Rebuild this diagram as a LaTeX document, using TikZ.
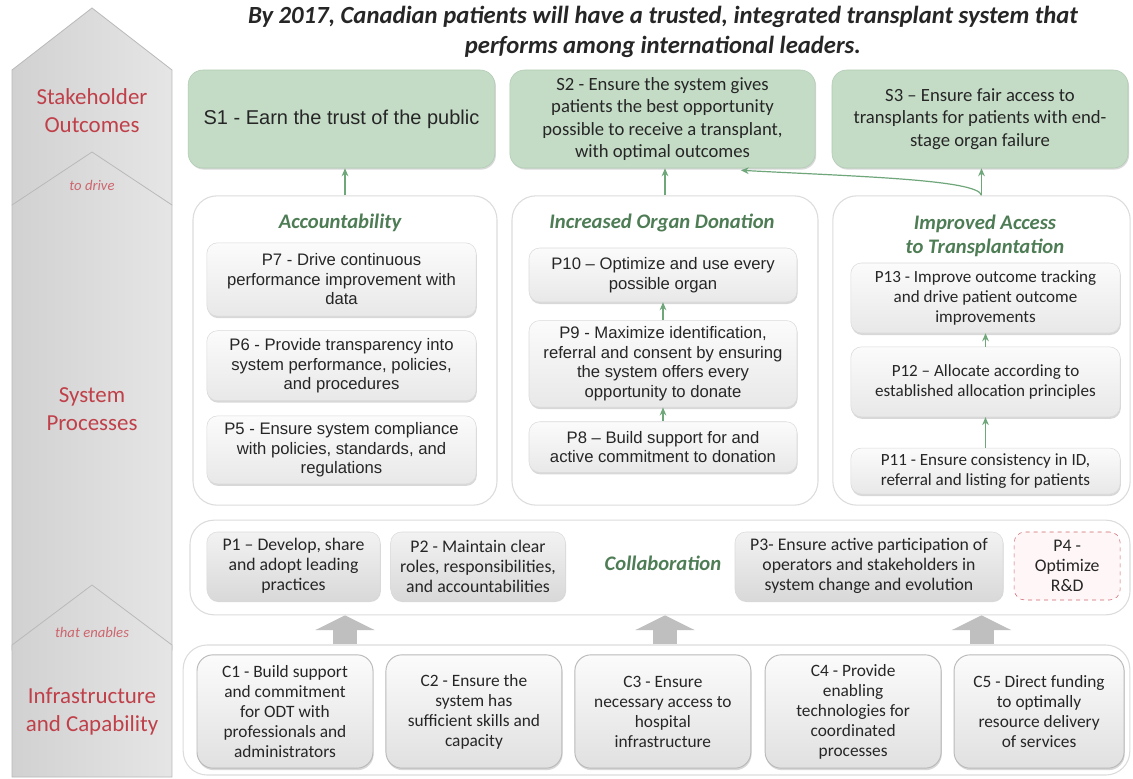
\documentclass[tikz,border=0pt]{standalone}
\usepackage{fontspec}
\setmainfont{Carlito}
\newfontfamily\arialfont{Liberation Sans}
\usetikzlibrary{arrows.meta,positioning,shadows}

\definecolor{sgfill}{HTML}{C4DCC6}
\definecolor{sgdraw}{HTML}{AFCBB2}
\definecolor{flowgreen}{HTML}{6FA77A}
\definecolor{headgreen}{HTML}{4E7D55}
\definecolor{labelred}{HTML}{C0404A}
\definecolor{txt}{HTML}{262626}
\definecolor{groupline}{HTML}{DCDCDC}

\begin{document}
\begin{tikzpicture}[
    x=0.75pt, y=-0.75pt,
    every node/.style={text=txt, align=center, inner sep=2pt},
    outcome/.style={draw=sgdraw, fill=sgfill, rounded corners=11pt, minimum height=73.5pt, font=\fontsize{14}{16.7}\selectfont, drop shadow={opacity=0.3, shadow xshift=0.8pt, shadow yshift=-1.2pt}},
    pgroup/.style={draw=groupline, line width=0.8pt, rounded corners=18pt, fill=white},
    proc/.style={draw=gray!28, rounded corners=8pt, top color=gray!3, bottom color=gray!18, minimum width=202pt, drop shadow={opacity=0.3, shadow xshift=0.5pt, shadow yshift=-1.5pt}},
    arialtxt/.style={font=\arialfont\fontsize{12.5}{14.6}\selectfont},
    calitxt/.style={font=\fontsize{12.8}{14.8}\selectfont},
    collabbox/.style={proc, top color=gray!10, bottom color=gray!30, minimum height=51pt, font=\fontsize{13.3}{15}\selectfont},
    rdbox/.style={draw=labelred!80, dashed, rounded corners=8pt, fill=red!3, minimum width=79.5pt, minimum height=51pt, font=\fontsize{13.3}{15}\selectfont},
    capbox/.style={draw=gray!55, line width=0.7pt, rounded corners=12pt, top color=gray!3, bottom color=gray!24, minimum width=132pt, minimum height=85pt, font=\fontsize{13}{15}\selectfont, drop shadow={opacity=0.3, shadow xshift=0.5pt, shadow yshift=-1.5pt}},
    heading/.style={text=headgreen, font=\bfseries\itshape\fontsize{15.5}{18}\selectfont},
    sidelabel/.style={text=labelred, font=\fontsize{17.2}{21}\selectfont},
    sidelink/.style={text=labelred!80, font=\itshape\fontsize{11}{13}\selectfont},
    pillar/.style={draw=gray!55, line width=0.6pt, left color=gray!36, right color=gray!20},
    flow/.style={-{Stealth[length=6pt,width=5pt]}, draw=flowgreen, line width=0.9pt},
    bigup/.style={-{Triangle[width=44pt,length=11pt]}, draw=gray!50, line width=18pt}
]
\useasboundingbox (0,0) rectangle (1133,779);
\fill[white] (0,0) rectangle (1133,779);

% left column
\path[pillar] (12,205) -- (12,70) -- (92,8) -- (172,70) -- (172,205) -- cycle;
\path[pillar] (12,650) -- (12,205) -- (92,152) -- (172,205) -- (172,650) -- cycle;
\path[pillar] (12,777) -- (12,645) -- (92,585) -- (172,645) -- (172,777) -- cycle;
\node[sidelabel] (lso) at (92,111) {Stakeholder\\Outcomes};
\node[sidelink] (ldrive) at (92,185) {to drive};
\node[sidelabel] (lsp) at (92,409) {System\\Processes};
\node[sidelink] (lenab) at (92,632) {that enables};
\node[sidelabel] (lic) at (92,711) {Infrastructure\\and Capability};

\node[font=\bfseries\itshape\fontsize{18.5}{23}\selectfont] (title) at (663,32) {By 2017, Canadian patients will have a trusted, integrated transplant system that\\performs among international leaders.};

% stakeholder outcomes
\node[outcome, minimum width=230pt, font=\arialfont\fontsize{15}{18}\selectfont] (s1) at (341.5,119) {S1 - Earn the trust of the public};
\node[outcome, minimum width=229pt] (s2) at (662.5,119) {S2 - Ensure the system gives\\patients the best opportunity\\possible to receive a transplant,\\with optimal outcomes};
\node[outcome, minimum width=222pt] (s3) at (980,119) {S3 – Ensure fair access to\\transplants for patients with end-\\stage organ failure};

% process groups
\node[pgroup, minimum width=228pt, minimum height=232pt] (acc) at (345,350.5) {};
\node[pgroup, minimum width=229.5pt, minimum height=232pt] (org) at (665,350.5) {};
\node[pgroup, minimum width=223pt, minimum height=232pt] (imp) at (981.5,350.5) {};
\node[heading] (hacc) at (340,223) {Accountability};
\node[heading] (horg) at (662,223) {Increased Organ Donation};
\node[heading] (himp) at (985,236) {Improved Access\\to Transplantation};

\node[proc, arialtxt, minimum height=55pt] (p7) at (341.5,279.5) {P7 - Drive continuous\\performance improvement with\\data};
\node[proc, arialtxt, minimum height=52.5pt, below=10.5pt of p7] (p6) {P6 - Provide transparency into\\system performance, policies,\\and procedures};
\node[proc, arialtxt, minimum height=51pt, below=11pt of p6] (p5) {P5 - Ensure system compliance\\with policies, standards, and\\regulations};

\node[proc, arialtxt, minimum width=201pt, minimum height=40.5pt] (p10) at (663,275) {P10 – Optimize and use every\\possible organ};
\node[proc, arialtxt, minimum width=201pt, minimum height=65pt, below=13.5pt of p10] (p9) {P9 - Maximize identification,\\referral and consent by ensuring\\the system offers every\\opportunity to donate};
\node[proc, arialtxt, minimum width=201pt, minimum height=38pt, below=10.5pt of p9] (p8) {P8 – Build support for and\\active commitment to donation};

\node[proc, calitxt, minimum height=52.5pt] (p13) at (985.5,298) {P13 - Improve outcome tracking\\and drive patient outcome\\improvements};
\node[proc, calitxt, minimum height=52.5pt, below=10pt of p13] (p12) {P12 – Allocate according to\\established allocation principles};
\node[proc, calitxt, minimum height=34.5pt, below=23pt of p12] (p11) {P11 - Ensure consistency in ID,\\referral and listing for patients};

% collaboration
\node[pgroup, minimum width=705pt, minimum height=71pt] (collab) at (660,567.5) {};
\node[collabbox, minimum width=130pt] (p1) at (293.5,566) {P1 – Develop, share\\and adopt leading\\practices};
\node[collabbox, minimum width=131pt, right=7.5pt of p1] (p2) {P2 - Maintain clear\\roles, responsibilities,\\and accountabilities};
\node[heading] (hcol) at (663,563) {Collaboration};
\node[collabbox, minimum width=201pt] (p3) at (869,566) {P3- Ensure active participation of\\operators and stakeholders in\\system change and evolution};
\node[rdbox, right=8pt of p3] (p4) {P4 -\\Optimize\\R\&D};

% infrastructure and capability
\node[pgroup, minimum width=710pt, minimum height=97.5pt] (capab) at (656.5,710) {};
\node[capbox] (c1) at (285,711.5) {C1 - Build support\\and commitment\\for ODT with\\professionals and\\administrators};
\node[capbox, right=9pt of c1] (c2) {C2 - Ensure the\\system has\\sufficient skills and\\capacity};
\node[capbox, right=9pt of c2] (c3) {C3 - Ensure\\necessary access to\\hospital\\infrastructure};
\node[capbox, right=10pt of c3] (c4) {C4 - Provide\\enabling\\technologies for\\coordinated\\processes};
\node[capbox, minimum width=127.5pt, right=9pt of c4] (c5) {C5 - Direct funding\\to optimally\\resource delivery\\of services};

% connectors
\draw[flow] (acc.north) -- (acc.north |- s1.south);
\draw[flow] (org.north) -- (org.north |- s2.south);
\draw[flow] (imp.north) -- (imp.north |- s3.south);
\coordinate (s2in) at ([xshift=-56pt,yshift=-1.5pt]s2.south east);
\draw[flow] (imp.north) .. controls +(-3,-16) and +(110,6) .. (s2in);
\draw[flow] (p9.north) -- (p10.south);
\draw[flow] (p8.north) -- (p9.south);
\draw[flow] (p12.north) -- (p13.south);
\draw[flow] (p11.north) -- (p12.south);
\draw[bigup] (capab.north -| acc.south) -- (collab.south -| acc.south);
\draw[bigup] (capab.north -| org.south) -- (collab.south -| org.south);
\draw[bigup] (capab.north -| imp.south) -- (collab.south -| imp.south);
\end{tikzpicture}
\end{document}
